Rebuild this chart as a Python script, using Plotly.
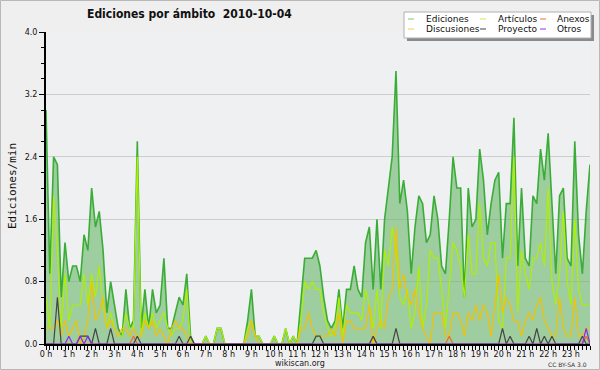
import plotly.graph_objects as go

# ---------------- data (edits per minute, 10-minute bins, 2010-10-04) ----------------
minutes = list(range(0, 1440, 10))
hour_labels = [f"{h} h" for h in range(24)]

ediciones = [
    3.0, 0.9, 2.4, 2.3, 0.6, 1.3,   0.8, 1.0, 1.0, 0.8, 1.4, 1.2,
    2.0, 1.5, 1.7, 1.2, 0.4, 0.8,   0.5, 0.2, 0.1, 0.7, 0.2, 0.3,
    2.6, 0.2, 0.7, 0.2, 0.7, 0.4,   0.5, 1.1, 0.2, 0.2, 0.4, 0.6,
    0.5, 0.9, 0.1, 0.0, 0.0, 0.0,   0.1, 0.0, 0.0, 0.2, 0.2, 0.0,
    0.0, 0.0, 0.0, 0.0, 0.0, 0.3,   0.7, 0.1, 0.1, 0.0, 0.0, 0.0,
    0.1, 0.0, 0.0, 0.2, 0.0, 0.1,   0.0, 0.5, 1.1, 1.1, 1.1, 1.2,
    1.0, 0.6, 0.3, 0.2, 0.3, 0.7,   0.2, 0.7, 0.7, 1.0, 0.7, 0.6,
    1.3, 1.5, 0.7, 1.6, 0.7, 1.6,   2.0, 2.4, 3.5, 1.8, 2.1, 1.7,
    0.9, 1.5, 1.9, 1.8, 1.3, 1.4,   1.9, 1.6, 1.0, 0.9, 1.6, 2.4,
    2.0, 2.0, 0.6, 2.0, 1.5, 1.6,   2.5, 2.1, 1.4, 1.8, 2.1, 2.2,
    1.1, 1.8, 1.8, 2.9, 1.0, 2.0,   1.1, 1.0, 1.9, 1.8, 2.5, 2.1,
    2.7, 1.8, 0.9, 1.9, 2.0, 1.1,   1.0, 2.6, 1.4, 0.9, 1.7, 2.3,
]
articulos = [
    0.6, 0.2, 1.9, 1.2, 0.2, 0.9,   0.3, 0.5, 0.5, 0.5, 0.9, 0.5,
    0.9, 0.6, 1.0, 0.5, 0.2, 0.4,   0.2, 0.1, 0.1, 0.4, 0.2, 0.2,
    2.4, 0.1, 0.4, 0.2, 0.4, 0.2,   0.3, 0.4, 0.2, 0.1, 0.2, 0.2,
    0.3, 0.7, 0.0, 0.0, 0.0, 0.0,   0.1, 0.0, 0.0, 0.2, 0.2, 0.0,
    0.0, 0.0, 0.0, 0.0, 0.0, 0.2,   0.3, 0.1, 0.1, 0.0, 0.0, 0.0,
    0.1, 0.0, 0.0, 0.2, 0.0, 0.1,   0.0, 0.3, 0.8, 0.7, 0.8, 0.7,
    0.7, 0.4, 0.2, 0.1, 0.2, 0.6,   0.1, 0.5, 0.4, 0.4, 0.4, 0.3,
    0.7, 0.5, 0.2, 0.7, 0.2, 1.2,   1.0, 1.5, 1.2, 0.6, 0.5, 0.7,
    0.2, 0.4, 1.0, 0.2, 0.5, 1.2,   1.1, 1.1, 0.7, 0.2, 0.7, 1.3,
    1.2, 1.0, 0.6, 1.4, 0.9, 0.9,   1.8, 1.1, 1.0, 1.3, 1.3, 0.3,
    0.2, 1.1, 1.1, 2.4, 0.4, 1.2,   0.9, 0.7, 1.1, 1.1, 1.3, 1.0,
    2.0, 0.8, 0.5, 0.9, 1.7, 0.8,   0.5, 1.6, 0.7, 0.5, 0.5, 0.5,
]
discusiones = [
    0.2, 0.2, 0.2, 0.3, 0.1, 0.3,   0.1, 0.2, 0.3, 0.0, 0.1, 0.3,
    0.8, 0.3, 0.4, 0.6, 0.2, 0.3,   0.2, 0.1, 0.2, 0.2, 0.1, 0.2,
    0.1, 0.1, 0.3, 0.2, 0.3, 0.1,   0.2, 0.1, 0.0, 0.2, 0.3, 0.2,
    0.2, 0.1, 0.0, 0.0, 0.0, 0.0,   0.0, 0.0, 0.0, 0.0, 0.0, 0.0,
    0.0, 0.0, 0.0, 0.0, 0.0, 0.1,   0.3, 0.1, 0.0, 0.0, 0.0, 0.0,
    0.0, 0.0, 0.0, 0.0, 0.0, 0.0,   0.0, 0.2, 0.2, 0.4, 0.2, 0.1,
    0.1, 0.1, 0.1, 0.2, 0.1, 0.4,   0.0, 0.3, 0.3, 0.2, 0.2, 0.2,
    0.2, 0.5, 0.0, 0.2, 0.3, 0.2,   0.6, 0.7, 1.5, 0.7, 0.9, 0.6,
    0.5, 0.7, 0.4, 0.2, 0.1, 0.0,   0.4, 0.4, 0.4, 0.1, 0.1, 0.4,
    0.4, 0.3, 0.1, 0.4, 0.3, 0.5,   0.3, 0.5, 0.4, 0.1, 0.5, 0.9,
    0.4, 0.6, 0.5, 0.3, 0.3, 0.1,   0.3, 0.4, 0.3, 0.5, 0.6, 0.3,
    0.2, 0.1, 0.1, 0.6, 0.2, 0.1,   0.1, 0.6, 0.1, 0.1, 0.2, 0.2,
]
proyecto = [
    0.0, 0.0, 0.0, 0.6, 0.0, 0.0,   0.0, 0.0, 0.0, 0.1, 0.1, 0.1,
    0.0, 0.2, 0.0, 0.0, 0.0, 0.2,   0.0, 0.0, 0.0, 0.0, 0.0, 0.0,
    0.1, 0.0, 0.0, 0.0, 0.0, 0.0,   0.0, 0.0, 0.0, 0.0, 0.0, 0.1,
    0.0, 0.0, 0.1, 0.0, 0.0, 0.0,   0.0, 0.0, 0.0, 0.0, 0.0, 0.0,
    0.0, 0.0, 0.0, 0.0, 0.0, 0.0,   0.0, 0.0, 0.0, 0.0, 0.0, 0.0,
    0.0, 0.0, 0.0, 0.0, 0.0, 0.0,   0.0, 0.0, 0.0, 0.0, 0.0, 0.1,
    0.1, 0.0, 0.0, 0.0, 0.0, 0.0,   0.0, 0.0, 0.0, 0.0, 0.0, 0.0,
    0.0, 0.0, 0.1, 0.0, 0.0, 0.0,   0.0, 0.0, 0.2, 0.0, 0.0, 0.0,
    0.0, 0.0, 0.0, 0.0, 0.0, 0.0,   0.0, 0.0, 0.0, 0.0, 0.0, 0.0,
    0.0, 0.0, 0.0, 0.0, 0.0, 0.0,   0.0, 0.0, 0.0, 0.0, 0.0, 0.0,
    0.2, 0.0, 0.1, 0.0, 0.0, 0.0,   0.0, 0.1, 0.0, 0.2, 0.0, 0.1,
    0.0, 0.1, 0.0, 0.0, 0.0, 0.0,   0.0, 0.0, 0.0, 0.1, 0.0, 0.0,
]
anexos = [
    0.0, 0.0, 0.0, 0.0, 0.0, 0.0,   0.0, 0.0, 0.0, 0.0, 0.0, 0.0,
    0.0, 0.0, 0.0, 0.0, 0.0, 0.0,   0.0, 0.0, 0.0, 0.0, 0.0, 0.1,
    0.0, 0.0, 0.0, 0.0, 0.0, 0.0,   0.0, 0.0, 0.0, 0.0, 0.0, 0.0,
    0.0, 0.0, 0.0, 0.0, 0.0, 0.0,   0.0, 0.0, 0.0, 0.0, 0.0, 0.0,
    0.0, 0.0, 0.0, 0.0, 0.0, 0.0,   0.0, 0.0, 0.0, 0.0, 0.0, 0.0,
    0.0, 0.0, 0.0, 0.0, 0.0, 0.0,   0.0, 0.0, 0.0, 0.0, 0.0, 0.0,
    0.0, 0.0, 0.0, 0.0, 0.0, 0.0,   0.0, 0.0, 0.0, 0.0, 0.0, 0.0,
    0.0, 0.0, 0.1, 0.0, 0.0, 0.0,   0.0, 0.0, 0.0, 0.0, 0.0, 0.0,
    0.0, 0.0, 0.0, 0.0, 0.0, 0.0,   0.0, 0.0, 0.0, 0.0, 0.1, 0.0,
    0.0, 0.0, 0.0, 0.0, 0.0, 0.0,   0.0, 0.0, 0.0, 0.0, 0.0, 0.0,
    0.0, 0.0, 0.0, 0.0, 0.0, 0.0,   0.0, 0.0, 0.0, 0.0, 0.0, 0.0,
    0.0, 0.0, 0.0, 0.0, 0.0, 0.0,   0.0, 0.0, 0.0, 0.0, 0.1, 0.0,
]
otros = [
    0.0, 0.0, 0.0, 0.0, 0.0, 0.0,   0.1, 0.0, 0.0, 0.1, 0.0, 0.1,
    0.0, 0.0, 0.0, 0.0, 0.0, 0.0,   0.0, 0.0, 0.0, 0.0, 0.0, 0.0,
    0.0, 0.0, 0.0, 0.0, 0.0, 0.0,   0.0, 0.0, 0.0, 0.0, 0.0, 0.0,
    0.0, 0.0, 0.0, 0.0, 0.0, 0.0,   0.0, 0.0, 0.0, 0.0, 0.0, 0.0,
    0.0, 0.0, 0.0, 0.0, 0.0, 0.0,   0.0, 0.0, 0.0, 0.0, 0.0, 0.0,
    0.0, 0.0, 0.0, 0.0, 0.0, 0.0,   0.0, 0.0, 0.0, 0.0, 0.0, 0.0,
    0.0, 0.0, 0.0, 0.0, 0.0, 0.0,   0.0, 0.0, 0.0, 0.0, 0.0, 0.0,
    0.0, 0.0, 0.0, 0.0, 0.0, 0.0,   0.0, 0.0, 0.0, 0.0, 0.0, 0.0,
    0.0, 0.0, 0.0, 0.0, 0.0, 0.0,   0.0, 0.0, 0.0, 0.0, 0.0, 0.0,
    0.0, 0.0, 0.0, 0.0, 0.0, 0.0,   0.0, 0.0, 0.0, 0.0, 0.0, 0.0,
    0.0, 0.0, 0.0, 0.0, 0.0, 0.0,   0.0, 0.0, 0.0, 0.0, 0.0, 0.0,
    0.0, 0.0, 0.0, 0.0, 0.0, 0.0,   0.0, 0.0, 0.0, 0.0, 0.2, 0.0,
]

series_colors = {
    "Ediciones": "#3aad37",
    "Artículos": "#aef000",
    "Anexos": "#f06a24",
    "Discusiones": "#f4c200",
    "Proyecto": "#444444",
    "Otros": "#8a2be8",
}
legend_colors = {
    "Ediciones": "#8fd38f",
    "Artículos": "#d2f070",
    "Anexos": "#f0875a",
    "Discusiones": "#f4d865",
    "Proyecto": "#666666",
    "Otros": "#9a5af0",
}

# ---------------- layout constants ----------------
W, H = 600, 370
ML, MR, MT, MB = 46, 10, 32, 26
PW, PH = W - ML - MR, H - MT - MB
FONT = "DejaVu Sans"
FONT_C = "DejaVu Sans Condensed, DejaVu Sans"


def px(X):
    return (X - ML) / PW


def py(Y):
    return (H - MB - Y) / PH


fig = go.Figure()

fig.add_trace(go.Scatter(
    x=minutes, y=ediciones, mode="lines", fill="tozeroy",
    fillcolor="rgba(105,182,105,0.6)",
    line=dict(color=series_colors["Ediciones"], width=1.6),
    name="Ediciones", showlegend=False, hoverinfo="skip"))
for name, vals in [("Artículos", articulos),
                   ("Discusiones", discusiones),
                   ("Anexos", anexos),
                   ("Proyecto", proyecto),
                   ("Otros", otros)]:
    fig.add_trace(go.Scatter(
        x=minutes, y=vals, mode="lines",
        line=dict(color=series_colors[name], width=1.2),
        name=name, showlegend=False, hoverinfo="skip"))

shapes = []
annotations = []

# outer border of image
shapes.append(dict(type="rect", xref="paper", yref="paper",
                   x0=px(0.5), x1=px(W - 0.5), y0=py(H - 0.5), y1=py(0.5),
                   line=dict(color="#b8b8b8", width=1), fillcolor="rgba(0,0,0,0)",
                   layer="below"))

# legend box (shadow + box)
LX0, LX1, LY0, LY1 = 404, 591, 12, 38
shapes.append(dict(type="rect", xref="paper", yref="paper",
                   x0=px(LX0 + 3), x1=px(LX1 + 3), y0=py(LY1 + 3), y1=py(LY0 + 3),
                   line=dict(width=0), fillcolor="#8a8a8a"))
shapes.append(dict(type="rect", xref="paper", yref="paper",
                   x0=px(LX0), x1=px(LX1), y0=py(LY1), y1=py(LY0),
                   line=dict(color="#b0b0b0", width=1), fillcolor="#ffffff"))

legend_cells = [
    ("Ediciones", 408, 424, 19), ("Artículos", 480, 496, 19), ("Anexos", 540, 555, 19),
    ("Discusiones", 408, 424, 29), ("Proyecto", 480, 496, 29), ("Otros", 540, 555, 29),
]
for name, lx, tx, ly in legend_cells:
    shapes.append(dict(type="line", xref="paper", yref="paper",
                       x0=px(lx), x1=px(lx + 6), y0=py(ly), y1=py(ly),
                       line=dict(color=legend_colors[name], width=1.2)))
    annotations.append(dict(text=name, xref="paper", yref="paper",
                            x=px(tx), y=py(ly), xanchor="left", yanchor="middle",
                            showarrow=False, font=dict(family=FONT, size=9, color="#111")))

# title
annotations.append(dict(text="<b>Ediciones por ámbito\u00a0\u00a02010-10-04</b>",
                        xref="paper", yref="paper", x=px(85), y=py(14),
                        xanchor="left", yanchor="middle", showarrow=False,
                        font=dict(family=FONT_C, size=12, color="#111")))
# y-axis title
annotations.append(dict(text="Ediciones/min", xref="paper", yref="paper",
                        x=px(12), y=py(186), textangle=-90,
                        xanchor="center", yanchor="middle", showarrow=False,
                        font=dict(family="DejaVu Sans Mono", size=11, color="#111")))
# footer
annotations.append(dict(text="wikiscan.org", xref="paper", yref="paper",
                        x=px(300), y=py(363), xanchor="center", yanchor="middle",
                        showarrow=False, font=dict(family=FONT, size=8, color="#222")))
annotations.append(dict(text="CC BY-SA 3.0", xref="paper", yref="paper",
                        x=px(589), y=py(364), xanchor="right", yanchor="middle",
                        showarrow=False, font=dict(family=FONT, size=6, color="#333")))

fig.update_layout(
    width=W, height=H,
    margin=dict(l=ML, r=MR, t=MT, b=MB, pad=0),
    paper_bgcolor="#efefef",
    plot_bgcolor="#eef0f2",
    shapes=shapes, annotations=annotations,
    showlegend=False,
    font=dict(family=FONT, size=8, color="#111"),
)
fig.update_xaxes(
    range=[minutes[0], minutes[-1]],
    tickmode="array", tickvals=minutes[::6], ticktext=hour_labels,
    ticks="outside", ticklen=4, tickwidth=1, tickcolor="black",
    ticklabelstandoff=-3,
    minor=dict(dtick=10, tick0=0, ticks="outside", ticklen=4, tickwidth=1,
               tickcolor="black", showgrid=False),
    showline=True, linecolor="black", linewidth=2,
    showgrid=False, zeroline=False,
    tickfont=dict(family=FONT, size=8, color="#111"),
)
fig.update_yaxes(
    range=[0, 4.0],
    tickmode="array", tickvals=[0, 0.8, 1.6, 2.4, 3.2, 4.0],
    ticktext=["0.0", "0.8", "1.6", "2.4", "3.2", "4.0"],
    ticks="outside", ticklen=5, tickwidth=1, tickcolor="black",
    minor=dict(dtick=0.2, tick0=0, ticks="outside", ticklen=3, tickwidth=1,
               tickcolor="black", showgrid=False),
    showline=True, linecolor="black", linewidth=2,
    showgrid=True, gridcolor="#cdcdcd", gridwidth=1, zeroline=False,
    tickfont=dict(family=FONT, size=8, color="#111"),
)

fig.write_html("out.html", config={"displayModeBar": False},
               post_script="document.body.style.margin='0px';document.body.style.overflow='hidden';")
